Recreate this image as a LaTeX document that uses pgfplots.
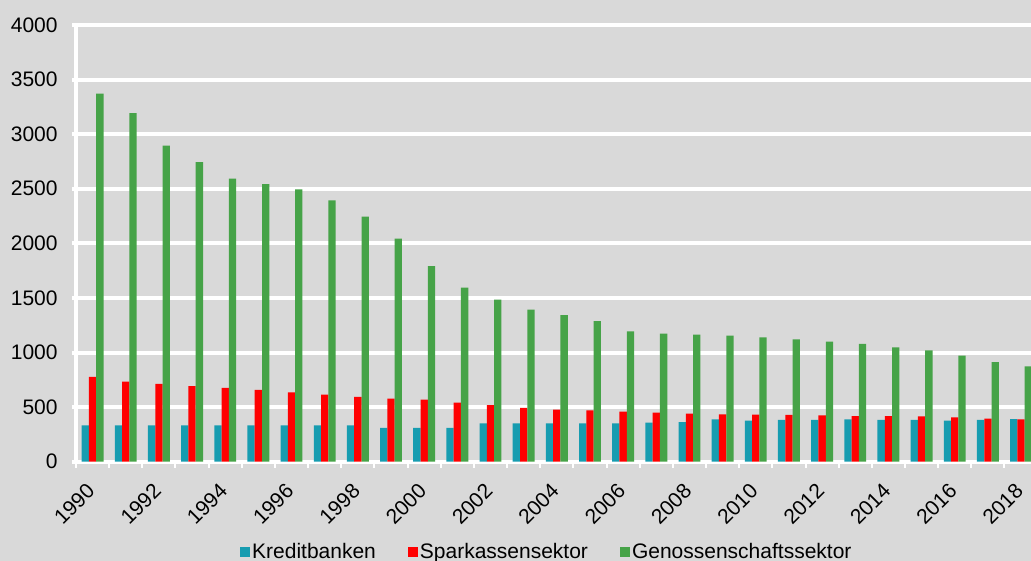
\documentclass[border=0pt]{standalone}
\usepackage{fontspec}
\setmainfont{Liberation Sans}
\usepackage{pgfplots}
\usepackage{pgfplotstable}
\pgfplotsset{compat=1.18}
\definecolor{bg}{HTML}{D9D9D9}
\definecolor{kredit}{RGB}{23,156,176}
\definecolor{spark}{RGB}{255,0,0}
\definecolor{geno}{RGB}{70,163,72}

% Anzahl der Institute je Sektor, 1990-2018
\pgfplotstableread{
idx kredit spark geno
0  333 776 3370
1  333 733 3193
2  333 712 2894
3  333 693 2744
4  333 675 2592
5  333 657 2543
6  333 635 2494
7  333 614 2394
8  333 593 2244
9  309 577 2042
10 309 568 1792
11 309 542 1593
12 351 519 1484
13 351 492 1392
14 351 476 1343
15 351 470 1288
16 351 458 1194
17 357 449 1172
18 363 440 1163
19 388 434 1154
20 376 432 1138
21 382 428 1121
22 382 425 1099
23 388 418 1078
24 382 418 1048
25 382 415 1020
26 376 406 971
27 382 394 913
28 391 388 874
}\datatable

\begin{document}
\begin{tikzpicture}
\fill[bg] (0,0) rectangle (515.5bp,280.5bp);
\begin{axis}[
    at={(38bp,49.65bp)}, anchor=south west,
    scale only axis,
    width=477.5bp, height=218.4bp,
    ybar=0pt, bar width=3.65bp,
    xmin=-0.5, xmax=28.3,
    ymin=0, ymax=4000,
    ytick={0,500,...,4000},
    xtick={0,2,...,28},
    xticklabels={1990,1992,1994,1996,1998,2000,2002,2004,2006,2008,2010,2012,2014,2016,2018},
    minor xtick={-0.5,0.5,...,28.5},
    axis x line*=bottom, axis y line*=left,
    axis line style={-, white, line width=2bp},
    tick align=outside,
    major tick length=2bp, minor tick length=3bp,
    major x tick style={draw=none},
    minor x tick style={white, line width=1bp},
    major y tick style={white, line width=2bp},
    ymajorgrids,
    major grid style={white, line width=2bp},
    scaled y ticks=false,
    /pgf/number format/assume math mode=true,
    /pgf/number format/1000 sep={},
    tick label style={font=\fontsize{10.5bp}{12.6bp}\selectfont, black},
    yticklabel style={inner sep=1bp, xshift=-6bp},
    xticklabel style={rotate=45, anchor=east, inner sep=1bp},
    xticklabel shift=10bp,
    legend style={at={(0.493,-0.207)}, anchor=center, draw=none, fill=none,
        legend columns=-1,
        font=\fontsize{10.5bp}{12.6bp}\selectfont,
        /tikz/every even column/.append style={column sep=15bp},
        nodes={inner sep=1bp}},
    legend image code/.code={\fill[#1] (0bp,-2.5bp) rectangle (5bp,2.5bp);},
]
\addplot[fill=kredit, draw=none] table[x=idx, y=kredit]{\datatable};
\addplot[fill=spark, draw=none] table[x=idx, y=spark]{\datatable};
\addplot[fill=geno, draw=none] table[x=idx, y=geno]{\datatable};
\legend{Kreditbanken, Sparkassensektor, Genossenschaftssektor}
\end{axis}
\pgfresetboundingbox
\useasboundingbox (0,0) rectangle (515.5bp,280.5bp);
\end{tikzpicture}
\end{document}
